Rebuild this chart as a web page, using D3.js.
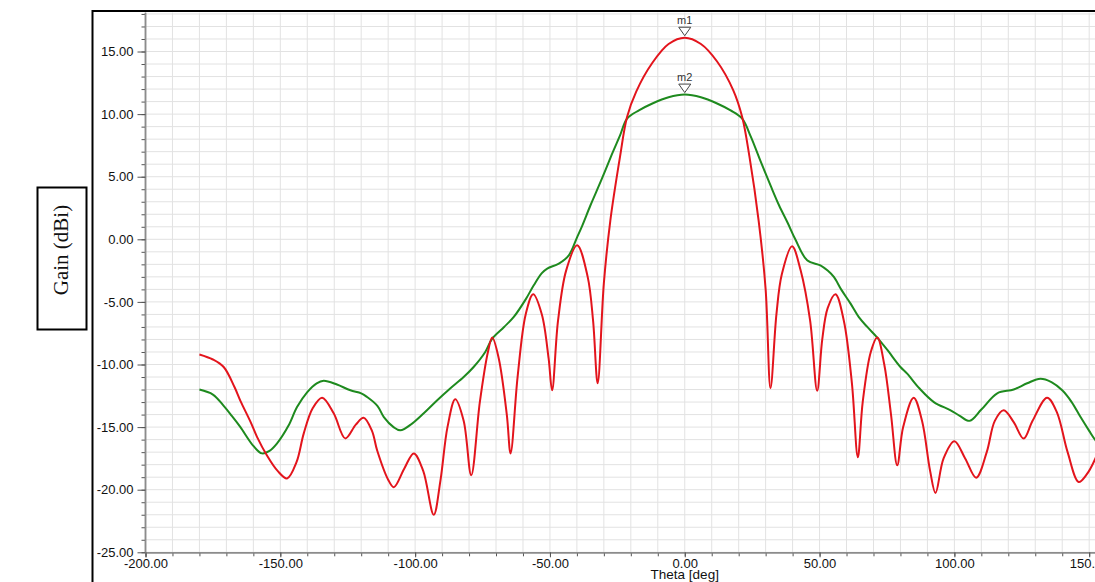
<!DOCTYPE html>
<html>
<head>
<meta charset="utf-8">
<script src="https://cdn.jsdelivr.net/npm/d3@7"></script>
<style>
  body { margin: 0; background: #fff; }
  svg { display: block; }
</style>
</head>
<body>
<svg id="chart" width="1095" height="582"></svg>
<script>
// Radiation pattern cut, gain vs theta for two antenna configurations
const redTheta = [-180, -175, -171, -167, -164.8, -161, -158.6, -155, -151, -147.5, -144, -141.3, -138, -134.5,
  -130.2, -125.9, -122, -119.1, -116, -114.1, -110, -107.9, -104, -100.5, -97, -93.1, -90.6, -88, -85.1,
  -82, -79.2, -76, -73, -71.4, -69, -66, -64.6, -62, -59, -56.2, -53, -50.5, -49.2, -47, -44, -39.9,
  -36, -34, -32.3, -30, -27.6, -24, -21.4, -18, -12, -6, 0, 6, 12, 18, 21.3, 24, 27.4, 30, 31.8,
  34, 36, 39.8, 43, 46.5, 49.1, 51, 53, 55.9, 59, 62, 64.2, 66, 69, 71.4, 74, 76.5, 78.8, 81, 84.9, 88,
  91, 93, 96, 100, 104, 108.1, 112, 115, 118.3, 122, 125.7, 129, 134.4, 138, 142, 146.1, 149, 152.3,
  158, 165, 172, 180];
const redGain = [-9.2, -9.6, -10.2, -11.8, -12.9, -14.6, -15.8, -17.25, -18.5, -19.1, -17.8, -15.5, -13.5, -12.65,
  -13.9, -15.9, -14.8, -14.25, -15.3, -16.85, -19.2, -19.8, -18.3, -17.1, -18.5, -22.0, -19.25, -15, -12.78,
  -14.5, -18.85, -13, -9, -7.85, -9.5, -14, -17.1, -11, -6, -4.39, -6, -9.5, -12.06, -6.5, -2.5, -0.48,
  -3, -6.5, -11.5, -3.5, 1.5, 6.6, 9.77, 11.8, 14.1, 15.6, 16.1, 15.6, 14.2, 11.9, 9.77, 6.6, 1.5, -4, -11.9,
  -6, -2.8, -0.56, -2.5, -6.5, -12.1, -8, -5.5, -4.39, -6.5, -11.5, -17.4, -13, -9, -7.85, -10, -14, -18.05, -15, -12.65, -14.5,
  -18.5, -20.26, -17.5, -16.13, -17.5, -19.04, -17, -14.5, -13.66, -14.6, -15.92, -14.5, -12.65, -13.8, -17, -19.38, -18.8, -17.5,
  -14, -11, -9.5, -9.2];

const greenTheta = [-180, -175, -171, -168, -164.8, -160, -156.8, -154, -151.2, -147, -143.8, -140, -136.5, -133.9,
  -129, -124, -120, -117.8, -114, -111.6, -108, -105.5, -101, -96.8, -92, -86.9, -82, -78.3, -74, -71.4,
  -67, -63.4, -59, -56, -53, -51, -46.7, -43, -39.9, -38, -35, -31, -27, -24, -21.4, -17, -12, -6, 0,
  6, 12, 17, 21.3, 24.5, 28, 32, 35, 38.2, 41, 45.4, 50.3, 53, 55.3, 58, 61.5, 64.5, 67.7, 71.4, 75, 80,
  82.5, 87, 92.4, 98.6, 102, 105.7, 110, 115.9, 122, 127, 131.9, 136, 140, 143.5, 146.8, 150, 152.3,
  156, 160, 165, 172, 180];
const greenGain = [-12.0, -12.4, -13.3, -14.1, -15.0, -16.5, -17.1, -16.9, -16.3, -14.9, -13.4, -12.2, -11.5, -11.3,
  -11.6, -12.06, -12.3, -12.6, -13.3, -14.2, -15.0, -15.26, -14.7, -13.9, -12.9, -11.9, -11.0, -10.2, -9.0, -7.93,
  -7.0, -6.2, -4.8, -3.67, -2.7, -2.34, -1.94, -1.28, 0.18, 1.1, 2.7, 4.7, 6.8, 8.3, 9.64, 10.3, 10.85, 11.35, 11.56,
  11.35, 10.85, 10.3, 9.64, 8.2, 6.3, 4.2, 2.7, 1.3, 0.0, -1.68, -2.08, -2.5, -3.0, -4.0, -5.14, -6.2, -7.0, -7.85, -8.8, -10.2,
  -10.73, -11.9, -13.0, -13.66, -14.1, -14.5, -13.6, -12.3, -12.0, -11.5, -11.13, -11.4, -12.06, -13.0, -14.2, -15.3, -16.05,
  -17.0, -16.6, -15, -13, -12.0];

// Peak markers
const markerNames = ["m1", "m2"];
const markerTheta = [0, 0];
const markerGain = [16.1, 11.56];

// Axis ticks
const xMajorTicks = [-200, -150, -100, -50, 0, 50, 100, 150, 200];
const yMajorTicks = [-25, -20, -15, -10, -5, 0, 5, 10, 15];

const xTitle = "Theta [deg]";
const yTitle = "Gain (dBi)";

const svg = d3.select("#chart");

const x = d3.scaleLinear().domain([-200, 200]).range([145.5, 1224]);
const y = d3.scaleLinear().domain([-25, 18.1]).range([552.3, 12.7]);

// Outer frame of the figure
svg.append("rect")
  .attr("x", 92.5).attr("y", 11)
  .attr("width", 1200).attr("height", 700)
  .attr("fill", "none").attr("stroke", "#000").attr("stroke-width", 2);

// Boxed y-axis title
svg.append("rect")
  .attr("x", 37.5).attr("y", 187.5).attr("width", 49).attr("height", 142)
  .attr("fill", "#fff").attr("stroke", "#000").attr("stroke-width", 2);
svg.append("text")
  .attr("transform", "translate(68,250) rotate(-90)")
  .attr("text-anchor", "middle")
  .attr("font-family", "Liberation Serif, serif")
  .attr("font-size", 21)
  .attr("fill", "#111")
  .text(yTitle);

const plot = svg.append("g");

// Grid: every 10 deg and every 1 dB
const xGrid = d3.range(-200, 201, 10);
const yGrid = d3.range(-25, 18.1, 1);
plot.append("g").selectAll("line").data(xGrid).join("line")
  .attr("x1", d => x(d)).attr("x2", d => x(d))
  .attr("y1", y(18.1)).attr("y2", y(-25))
  .attr("stroke", "#e2e2e2").attr("stroke-width", 1);
plot.append("g").selectAll("line").data(yGrid).join("line")
  .attr("x1", x(-200)).attr("x2", x(200))
  .attr("y1", d => y(d)).attr("y2", d => y(d))
  .attr("stroke", "#e2e2e2").attr("stroke-width", 1);

// Axes
const fmt = d => d.toFixed(2);
const yAxisMinor = plot.append("g").attr("transform", `translate(${x(-200)},0)`)
  .call(d3.axisLeft(y).tickValues(d3.range(-25, 18.1, 1)).tickSize(4).tickFormat(""));
const yAxis = plot.append("g").attr("transform", `translate(${x(-200)},0)`)
  .call(d3.axisLeft(y).tickValues(yMajorTicks).tickSize(8).tickPadding(4).tickFormat(fmt));
const xAxisMinor = plot.append("g").attr("transform", `translate(0,${y(-25)})`)
  .call(d3.axisBottom(x).tickValues(d3.range(-200, 201, 10)).tickSize(4).tickFormat(""));
const xAxis = plot.append("g").attr("transform", `translate(0,${y(-25)})`)
  .call(d3.axisBottom(x).tickValues(xMajorTicks).tickSize(5).tickPadding(1).tickFormat(fmt));

[yAxisMinor, yAxis, xAxisMinor, xAxis].forEach(g => {
  g.select(".domain").attr("stroke", "#8c8c8c").attr("stroke-width", 1.5);
  g.selectAll(".tick line").attr("stroke", "#555");
  g.selectAll("text").attr("font-family", "Liberation Sans, Arial, sans-serif")
    .attr("font-size", 13).attr("fill", "#111");
});
yAxis.select(".domain").attr("d", `M0,${y(18.1)}V${y(-25)}`);
yAxisMinor.select(".domain").attr("d", `M0,${y(18.1)}V${y(-25)}`);

plot.append("text")
  .attr("x", x(0)).attr("y", 579)
  .attr("text-anchor", "middle")
  .attr("font-family", "Liberation Sans, Arial, sans-serif")
  .attr("font-size", 13.5).attr("fill", "#111")
  .text(xTitle);

// Traces
const line = d3.line().curve(d3.curveCatmullRom.alpha(0.5));
plot.append("path")
  .attr("d", line(greenTheta.map((t, i) => [x(t), y(greenGain[i])])))
  .attr("fill", "none").attr("stroke", "#1e8a1e").attr("stroke-width", 2);
plot.append("path")
  .attr("d", line(redTheta.map((t, i) => [x(t), y(redGain[i])])))
  .attr("fill", "none").attr("stroke", "#e3141c").attr("stroke-width", 2);

// Peak markers with labels
markerNames.forEach((name, i) => {
  const px = x(markerTheta[i]);
  const py = y(markerGain[i]) - 2;
  plot.append("path")
    .attr("d", `M${px},${py}L${px - 6},${py - 8.5}L${px + 6},${py - 8.5}Z`)
    .attr("fill", "#fff").attr("stroke", "#444").attr("stroke-width", 1);
  plot.append("text")
    .attr("x", px).attr("y", py - 11.5)
    .attr("text-anchor", "middle")
    .attr("font-family", "Liberation Sans, Arial, sans-serif")
    .attr("font-size", 11).attr("fill", "#333")
    .text(name);
});
</script>
</body>
</html>
